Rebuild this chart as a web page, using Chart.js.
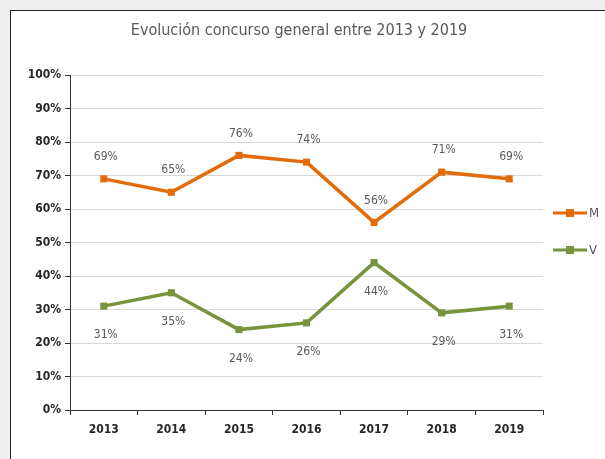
<!DOCTYPE html>
<html>
<head>
<meta charset="utf-8">
<script src="https://cdn.jsdelivr.net/npm/chart.js@4"></script>
<style>
  html, body { margin: 0; padding: 0; background: #efefef; }
  #frame {
    position: absolute; left: 10px; top: 10px;
    width: 600px; height: 455px;
    background: #fff; border: 1px solid #222;
  }
  #frame canvas { display: block; }
</style>
</head>
<body>
<div id="frame"><canvas id="chart" width="594" height="448"></canvas></div>
<script>
const FONT = '"Liberation Sans Narrow", "DejaVu Sans Condensed", "Open Sans", sans-serif';

// Años y porcentajes por grupo
const years = ['2013', '2014', '2015', '2016', '2017', '2018', '2019'];
const serieM = [69, 65, 76, 74, 56, 71, 69];
const serieV = [31, 35, 24, 26, 44, 29, 31];
const yTicks = [0, 10, 20, 30, 40, 50, 60, 70, 80, 90, 100];
const chartTitle = 'Evolución concurso general entre 2013 y 2019';

const ORANGE = '#e36c0a';
const GREEN = '#77933c';

// Título centrado sobre todo el lienzo
const topTitle = {
    id: 'topTitle',
    afterDraw(chart) {
        const c = chart.ctx;
        c.save();
        c.font = '16px ' + FONT;
        c.fillStyle = '#595959';
        c.textAlign = 'center';
        c.textBaseline = 'middle';
        c.fillText(chartTitle, 288, 20);
        c.restore();
    }
};

// Etiquetas de valor: M por encima, V por debajo
const valueLabels = {
    id: 'valueLabels',
    afterDatasetsDraw(chart) {
        const c = chart.ctx;
        c.save();
        c.font = '12px ' + FONT;
        c.fillStyle = '#595959';
        c.textAlign = 'center';
        c.textBaseline = 'middle';
        chart.data.datasets.forEach((ds, i) => {
            const meta = chart.getDatasetMeta(i);
            meta.data.forEach((pt, j) => {
                const dy = ds.label === 'M' ? -22 : 29;
                c.fillText(ds.data[j] + '%', pt.x + 2, pt.y + dy);
            });
        });
        c.restore();
    }
};

// Leyenda a la derecha con línea y marcador
const sideLegend = {
    id: 'sideLegend',
    afterDraw(chart) {
        const c = chart.ctx;
        c.save();
        chart.data.datasets.forEach((ds, i) => {
            const y = 202 + i * 37;
            const x0 = 542, x1 = 576;
            c.strokeStyle = ds.borderColor;
            c.lineWidth = 3;
            c.beginPath();
            c.moveTo(x0, y);
            c.lineTo(x1, y);
            c.stroke();
            c.fillStyle = ds.borderColor;
            c.fillRect((x0 + x1) / 2 - 4, y - 4, 8, 8);
            c.fillStyle = '#595959';
            c.font = '13px ' + FONT;
            c.textBaseline = 'middle';
            c.fillText(ds.label, x1 + 2, y + 1);
        });
        c.restore();
    }
};

const ctx = document.getElementById('chart').getContext('2d');
new Chart(ctx, {
    type: 'line',
    data: {
        labels: years,
        datasets: [
            { label: 'M', data: serieM, borderColor: ORANGE, backgroundColor: ORANGE },
            { label: 'V', data: serieV, borderColor: GREEN, backgroundColor: GREEN }
        ]
    },
    options: {
        responsive: false,
        animation: false,
        layout: { padding: { left: 0, top: 64, right: 62, bottom: 0 } },
        elements: {
            line: { borderWidth: 3.5, tension: 0 },
            point: { pointStyle: 'rect', radius: 5, borderWidth: 0 }
        },
        plugins: {
            legend: { display: false },
            tooltip: { enabled: false }
        },
        scales: {
            x: {
                offset: true,
                afterFit: s => { s.height = 49; },
                grid: { offset: true, drawOnChartArea: false, tickLength: 5, color: '#333', tickColor: '#333' },
                border: { color: '#333', width: 1 },
                ticks: { color: '#262626', padding: 8, font: { family: FONT, size: 12, weight: 'bold' } }
            },
            y: {
                min: 0,
                max: 100,
                afterFit: s => { s.width = 59; },
                afterBuildTicks: s => { s.ticks = yTicks.map(v => ({ value: v })); },
                grid: { color: '#d9d9d9', tickLength: 5, tickColor: '#333' },
                border: { color: '#333', width: 1 },
                ticks: {
                    color: '#262626',
                    padding: 4,
                    font: { family: FONT, size: 12, weight: 'bold' },
                    callback: v => v + '%'
                }
            }
        }
    },
    plugins: [topTitle, valueLabels, sideLegend]
});
</script>
</body>
</html>
